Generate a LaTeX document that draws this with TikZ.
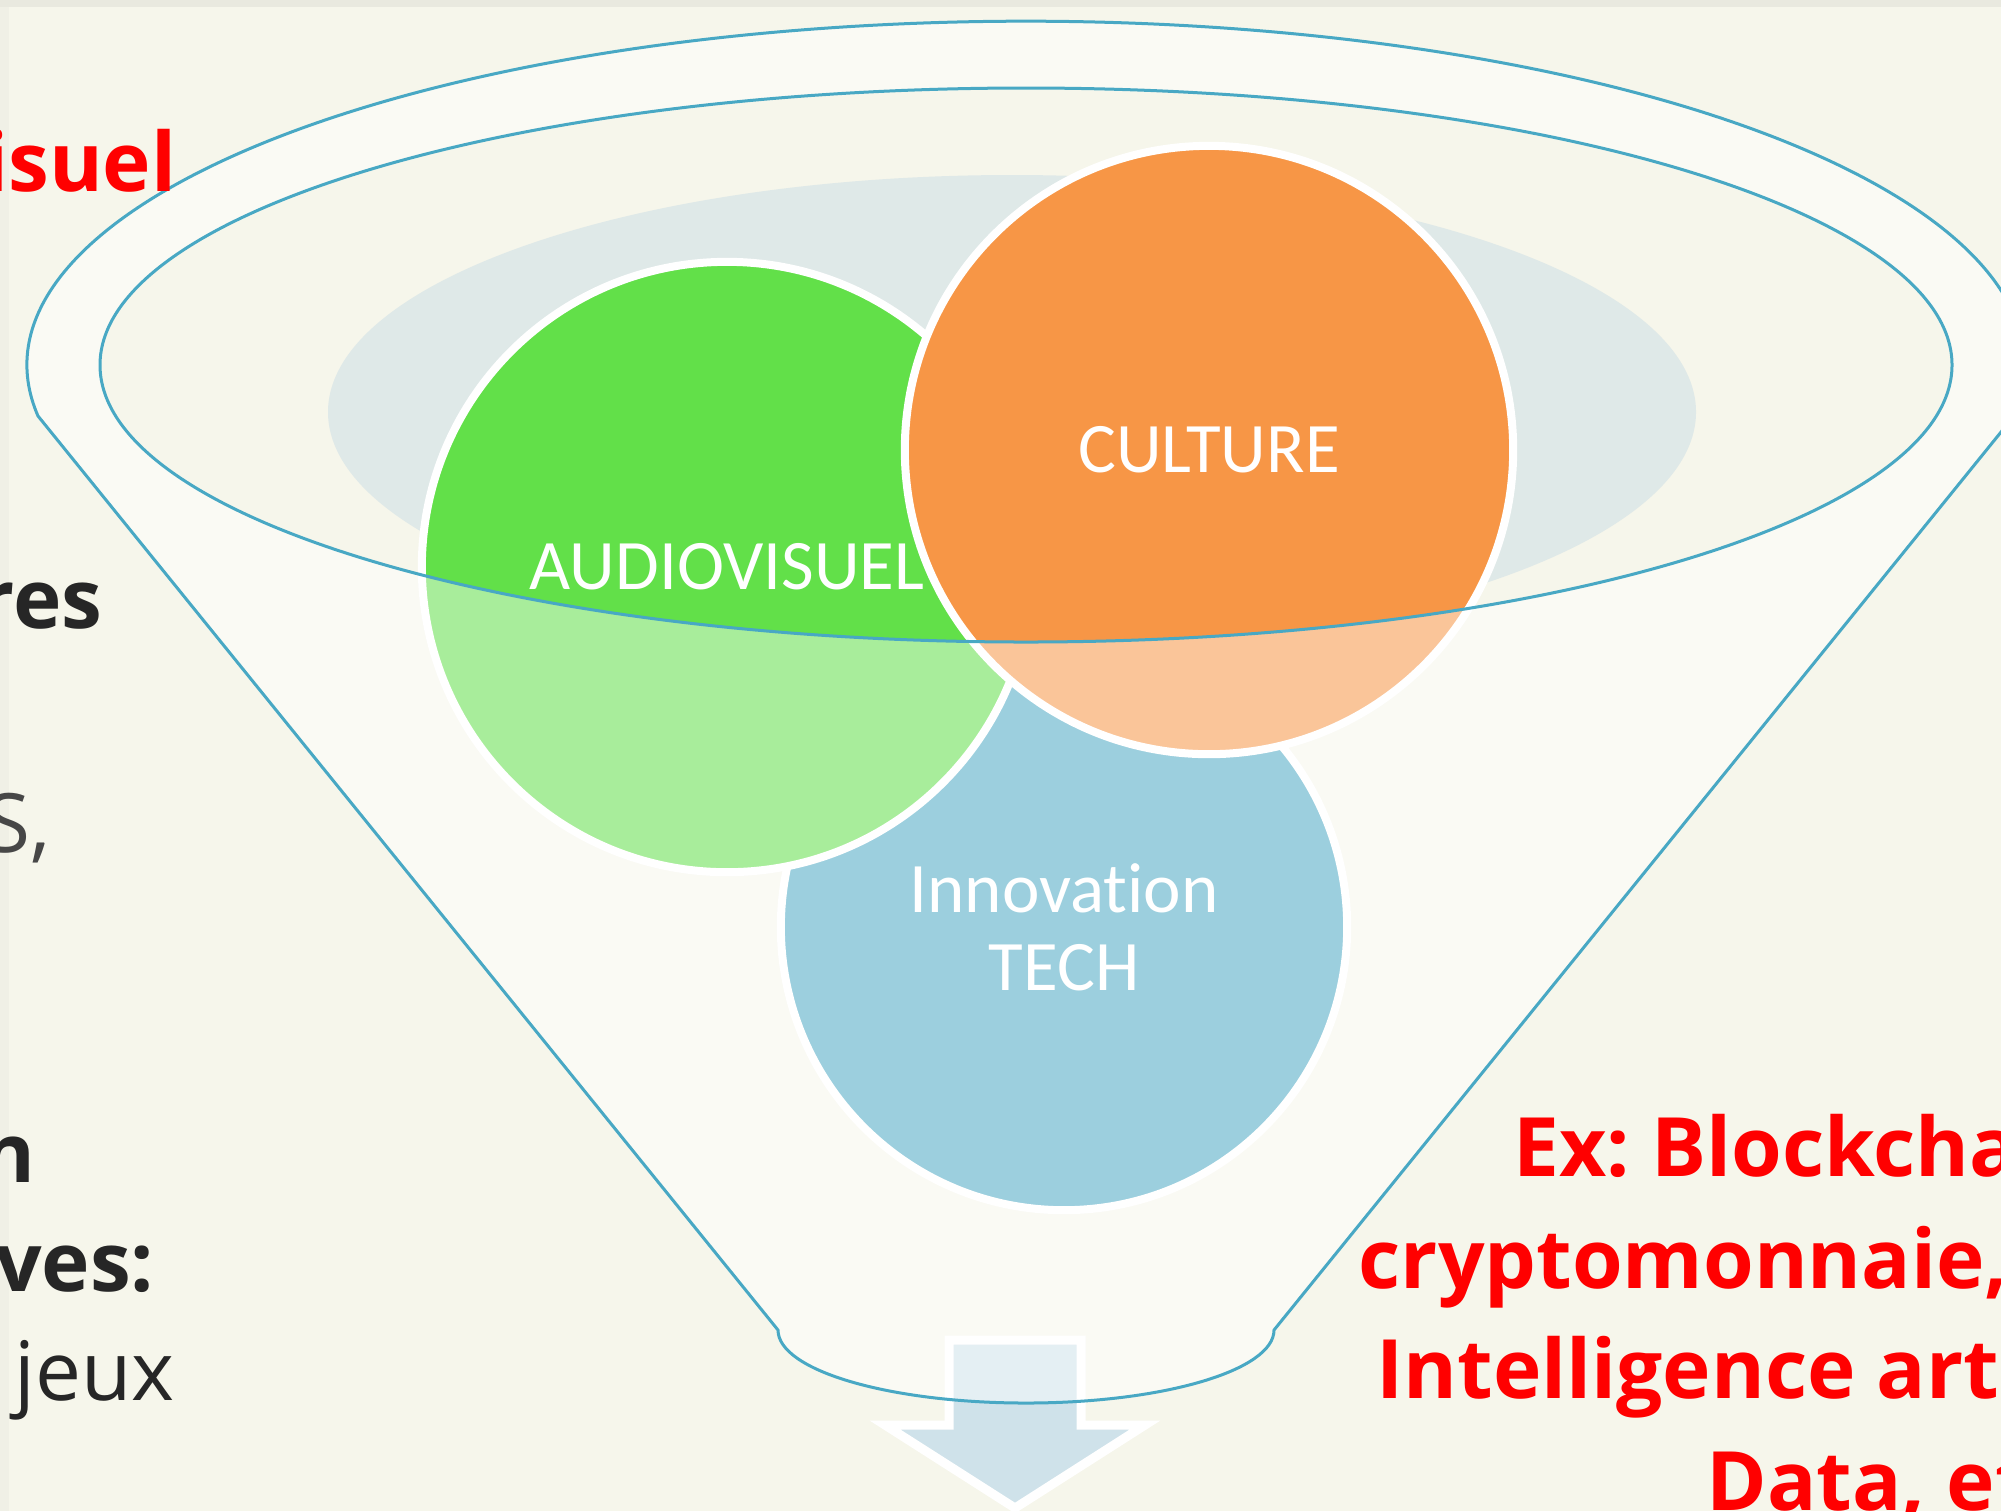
\documentclass[tikz,border=0pt]{standalone}
\usepackage{fontspec}
\setmainfont{Open Sans}
\newfontfamily\bubblefont[Ligatures=NoCommon]{Carlito}

\definecolor{paper}{RGB}{246,246,235}
\definecolor{shadetop}{RGB}{233,233,223}
\definecolor{shadeleft}{RGB}{240,240,230}
\definecolor{mist}{RGB}{223,233,232}
\definecolor{audiogreen}{RGB}{98,224,73}
\definecolor{cultureorange}{RGB}{247,150,70}
\definecolor{techblue}{RGB}{75,168,196}
\definecolor{arrowblue}{RGB}{207,226,234}
\definecolor{funnelblue}{RGB}{72,168,196}
\definecolor{alert}{RGB}{255,0,0}
\definecolor{ink}{RGB}{38,38,38}

\begin{document}
\frenchspacing
\begin{tikzpicture}[x=0.01cm, y=-0.01cm,
        bubble/.style={circle, draw=white, line width=0.08cm, inner sep=0pt,
            text=white, align=center, font=\bubblefont\fontsize{20.2}{22.2}\selectfont},
        funnelline/.style={draw=funnelblue, line width=0.03cm},
        sidebold/.style={inner sep=0pt, font=\fontsize{23.3}{28}\selectfont\bfseries},
        sideplain/.style={inner sep=0pt, font=\fontsize{23.3}{28}\selectfont}]

        \useasboundingbox (0,0) rectangle (2001,1511);
        \fill[paper] (0,0) rectangle (2001,1511);
        \fill[shadeleft] (0,0) rectangle (9,1511);
        \fill[shadetop] (0,0) rectangle (2001,7);

        % inside of the funnel
        \fill[mist] (1012,412) ellipse (684 and 237);

        \node[bubble, fill=techblue, minimum size=5.66cm] (tech) at (1064,927) {Innovation\\TECH};
        \node[bubble, fill=audiogreen, minimum size=6.10cm] (audio) at (727,567) {AUDIOVISUEL};
        \node[bubble, fill=cultureorange, minimum size=6.08cm] (culture) at (1209,450) {CULTURE};

        \draw[white, line width=0.09cm, fill=arrowblue] (949,1340) -- (1081,1340) -- (1081,1425)
            -- (1145,1425) -- (1015,1508) -- (885,1425) -- (949,1425) -- cycle;

        % front of the funnel
        \fill[white, fill opacity=0.45, even odd rule] (38,416)
            arc[start angle=171.5, end angle=368.5, x radius=999, y radius=344] -- (1274,1330)
            arc[start angle=0, end angle=180, x radius=248, y radius=73] -- cycle
            (1026,365) ellipse (926 and 277);
        \draw[funnelline] (38,416)
            arc[start angle=171.5, end angle=368.5, x radius=999, y radius=344] -- (1274,1330)
            arc[start angle=0, end angle=180, x radius=248, y radius=73] -- cycle;
        \draw[funnelline] (1026,365) ellipse (926 and 277);

        \node[sidebold, text=alert, anchor=base east] (isuel) at (177,191) {isuel};
        \node[sidebold, text=ink, anchor=base east] (res) at (103,628) {res};
        \node[sideplain, text=ink!85, anchor=base east] (s) at (51,852) {S,};
        \node[sidebold, text=ink, anchor=base east] (n) at (36,1182) {n};
        \node[sidebold, text=ink, anchor=base east] (ves) at (155,1291) {ves:};
        \node[sideplain, text=ink, anchor=base east] (jeux) at (175,1400) {jeux};

        \node[sidebold, text=alert, anchor=base west] (ex) at (1513,1176) {Ex: Blockcha};
        \node[sidebold, text=alert, anchor=base west] (crypto) at (1358,1288) {cryptomonnaie,};
        \node[sidebold, text=alert, anchor=base west] (ia) at (1376,1398) {Intelligence arti};
        \node[sidebold, text=alert, anchor=base west] (data) at (1706,1510) {Data, et};

\end{tikzpicture}
\end{document}
